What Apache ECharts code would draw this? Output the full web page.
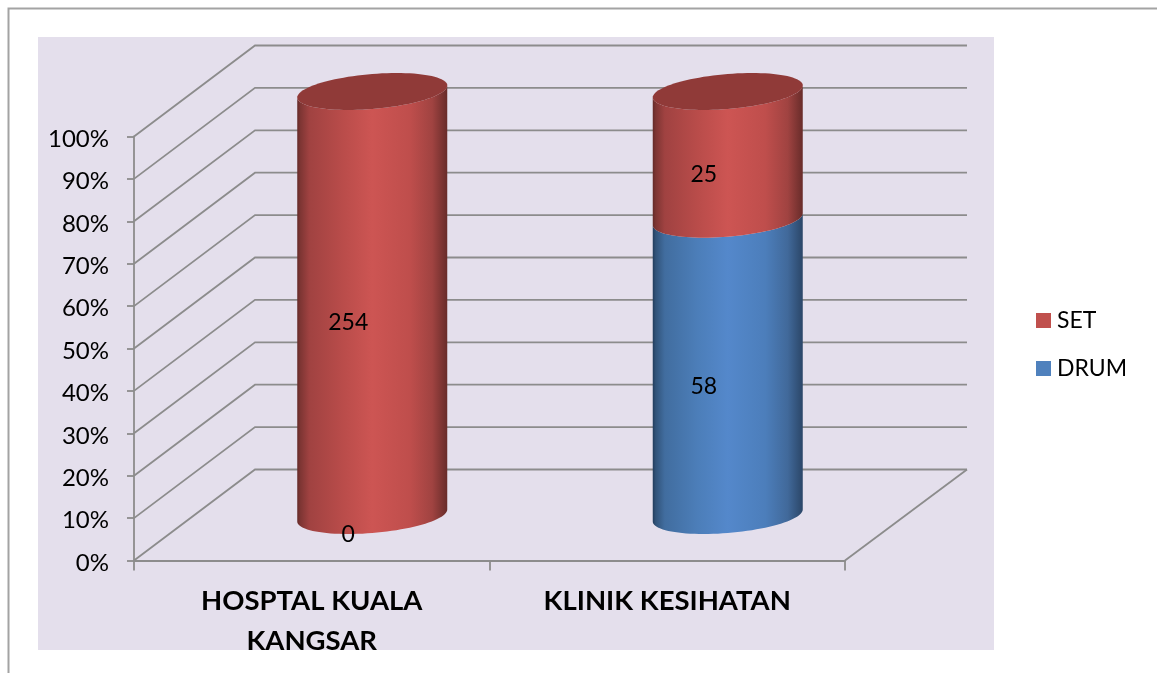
<!DOCTYPE html>
<html>
<head>
<meta charset="utf-8">
<style>html,body{margin:0;padding:0;background:#fff}#c{width:1157px;height:673px}</style>
<script src="https://cdn.jsdelivr.net/npm/echarts@6/dist/echarts.min.js"></script>
</head>
<body>
<div id="c"></div>
<script>
const categories = ['HOSPTAL KUALA\nKANGSAR', 'KLINIK KESIHATAN'];
const drumValues = [0, 58];
const setValues = [254, 25];
const percentTicks = [0, 10, 20, 30, 40, 50, 60, 70, 80, 90, 100];

const FONT = 'Lato, Carlito, sans-serif';
const LINE = '#8c8c8c';
const DEPTH = { x: 121, y: -91 };
const BAR = { dx: 60.5, dy: -45, a: 75, b: 17.5, tilt: 6, labelDx: -24, labelDy: 19 };

const drumRows = categories.map((c, i) => {
  const total = drumValues[i] + setValues[i];
  return [i, 0, drumValues[i] / total * 100, drumValues[i]];
});
const setRows = categories.map((c, i) => {
  const total = drumValues[i] + setValues[i];
  return [i, drumValues[i] / total * 100, 100, setValues[i]];
});

function grad(stops) {
  return {
    type: 'linear', x: 0, y: 0, x2: 1, y2: 0,
    colorStops: stops.map(s => ({ offset: s[0], color: s[1] }))
  };
}
const redBody = grad([[0, '#642a28'], [0.02, '#7d3533'], [0.08, '#a04241'], [0.3, '#b94c4a'], [0.5, '#cd5553'], [0.75, '#bf4e4c'], [0.9, '#a04341'], [1, '#682c2a']]);
const blueBody = grad([[0, '#223c5c'], [0.02, '#315379'], [0.08, '#416d9f'], [0.3, '#4c7eb9'], [0.5, '#5488cb'], [0.75, '#4c7ebb'], [0.9, '#41699a'], [1, '#2b4668']]);

function arc(cx, cy, from, to, n) {
  const pts = [];
  for (let k = 0; k <= n; k++) {
    const t = from + (to - from) * k / n;
    pts.push([cx + BAR.a * Math.cos(t), cy + BAR.b * Math.sin(t) - BAR.tilt * Math.cos(t)]);
  }
  return pts;
}

function cylinder(body, withCap) {
  return function (params, api) {
    const i = api.value(0);
    const lo = api.coord([i, api.value(1)]);
    const hi = api.coord([i, api.value(2)]);
    const cx = lo[0] + BAR.dx;
    const yLo = lo[1] + BAR.dy;
    const yHi = hi[1] + BAR.dy;
    const children = [];
    if (yLo - yHi > 0.5) {
      const pts = arc(cx, yHi, 0, Math.PI, 48).reverse().concat(arc(cx, yLo, 0, Math.PI, 48));
      children.push({ type: 'polygon', shape: { points: pts }, style: { fill: body } });
      if (withCap) {
        children.push({ type: 'polygon', shape: { points: arc(cx, yHi, 0, Math.PI * 2, 96) }, style: { fill: '#903a38' } });
      }
    }
    return { type: 'group', children };
  };
}

function valueLabel(params, api) {
  const i = api.value(0);
  const lo = api.coord([i, api.value(1)]);
  const hi = api.coord([i, api.value(2)]);
  return {
    type: 'text',
    style: {
      text: String(api.value(3)),
      x: lo[0] + BAR.dx + BAR.labelDx,
      y: (lo[1] + hi[1]) / 2 + BAR.dy + BAR.labelDy,
      fill: '#000', font: '23px ' + FONT, align: 'center', verticalAlign: 'middle'
    }
  };
}

function wall(params, api) {
  const cs = params.coordSys;
  const v = api.value(0);
  const p = api.coord([0, v]);
  const y = p[1];
  const x0 = cs.x, x1 = cs.x + cs.width;
  const children = [{
    type: 'polyline',
    shape: { points: [[x0, y], [x0 + DEPTH.x, y + DEPTH.y], [x1 + DEPTH.x + 1, y + DEPTH.y]] },
    style: { stroke: LINE, lineWidth: 1.8, fill: null }
  }];
  if (v === 0) {
    children.push({
      type: 'line',
      shape: { x1: x1, y1: y, x2: x1 + DEPTH.x + 1, y2: y + DEPTH.y },
      style: { stroke: LINE, lineWidth: 1.8 }
    });
  }
  return { type: 'group', children };
}

const chart = echarts.init(document.getElementById('c'), null, { renderer: 'canvas' });
chart.setOption({
  animation: false,
  backgroundColor: '#ffffff',
  graphic: [
    { type: 'rect', z: -1, silent: true, shape: { x: 38, y: 37, width: 956, height: 613 }, style: { fill: '#e4dfec' } },
    { type: 'polyline', z: -1, silent: true, shape: { points: [[8.5, 673], [8.5, 8.5], [1157, 8.5]] }, style: { stroke: '#a3a3a3', lineWidth: 2, fill: null } },
    { type: 'rect', z: 100, silent: true, shape: { x: 38, y: 650, width: 956, height: 23 }, style: { fill: '#ffffff' } }
  ],
  grid: { left: 134, top: 136.5, width: 711, height: 424, containLabel: false },
  legend: {
    data: ['SET', 'DRUM'], orient: 'vertical', left: 1036, top: 309,
    icon: 'rect', itemWidth: 15, itemHeight: 15, itemGap: 25,
    textStyle: { color: '#000', fontFamily: FONT, fontSize: 23, padding: [0, 0, 0, 1] },
    selectedMode: false, padding: 0
  },
  xAxis: {
    type: 'category', data: categories, boundaryGap: true,
    axisLine: { show: true, lineStyle: { color: LINE, width: 1.8 } },
    axisTick: { show: true, length: 10, alignWithLabel: false, lineStyle: { color: LINE, width: 1.8 } },
    axisLabel: { interval: 0, margin: 21, color: '#000', fontFamily: FONT, fontSize: 27.5, fontWeight: 'bold', lineHeight: 40, hideOverlap: false }
  },
  yAxis: {
    type: 'value', min: 0, max: 100, interval: 10,
    axisLine: { show: true, lineStyle: { color: LINE, width: 1.8 } },
    axisTick: { show: true, length: 7, lineStyle: { color: LINE, width: 1.8 } },
    axisLabel: {
      margin: 25, formatter: '{v|{value}%}',
      rich: { v: { padding: [5, 0, 0, 0], color: '#000', fontFamily: FONT, fontSize: 24 } }
    },
    splitLine: { show: false }
  },
  series: [
    { name: 'walls', type: 'custom', z: 1, silent: true, clip: false, data: percentTicks.map(v => [v]), encode: { y: 0 }, renderItem: wall },
    { name: 'DRUM', type: 'custom', z: 2, clip: false, itemStyle: { color: '#4f81bd' }, data: drumRows, encode: { x: 0, y: [1, 2] }, renderItem: cylinder(blueBody, false) },
    { name: 'SET', type: 'custom', z: 3, clip: false, itemStyle: { color: '#c0504d' }, data: setRows, encode: { x: 0, y: [1, 2] }, renderItem: cylinder(redBody, true) },
    { name: 'DRUM values', type: 'custom', z: 5, silent: true, clip: false, data: drumRows, encode: { x: 0, y: [1, 2] }, renderItem: valueLabel },
    { name: 'SET values', type: 'custom', z: 5, silent: true, clip: false, data: setRows, encode: { x: 0, y: [1, 2] }, renderItem: valueLabel }
  ]
});
</script>
</body>
</html>
